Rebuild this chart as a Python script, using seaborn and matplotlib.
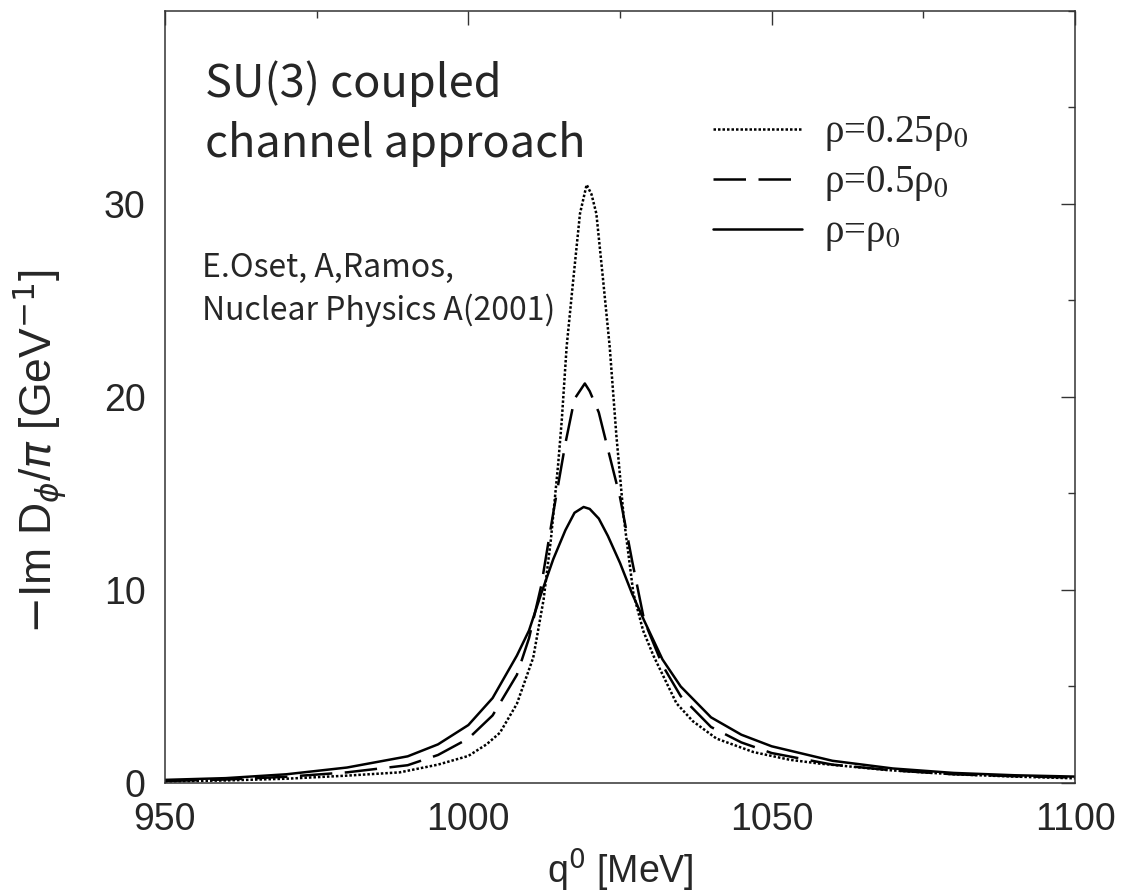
import matplotlib
matplotlib.use("Agg")
import matplotlib.pyplot as plt
from matplotlib.font_manager import FontProperties
from matplotlib.ticker import MultipleLocator
import seaborn as sns
import pandas as pd

# ---- data ----
q_rho025 = [950, 960, 970, 980, 988.7, 995, 1000, 1003, 1005.2, 1008, 1010.7, 1012.4, 1013.6,
            1014.8, 1015.4, 1016.2, 1017.3, 1018.4, 1019.5, 1020.3, 1021.1, 1022.2, 1023.3,
            1024.4, 1025.6, 1027.2, 1028.8, 1030.5, 1034.3, 1037, 1040.9, 1047, 1053, 1058,
            1069, 1080, 1090, 1100]
v_rho025 = [0.08, 0.13, 0.22, 0.38, 0.55, 0.95, 1.4, 2.0, 2.6, 4.1, 6.5, 9.5, 12.6,
            16.5, 18.8, 22.6, 26.1, 29.5, 31.0, 30.5, 29.5, 26.1, 22.6,
            18.0, 13.8, 9.83, 7.9, 6.6, 4.13, 3.2, 2.3, 1.6, 1.2, 1.0,
            0.67, 0.45, 0.33, 0.24]

q_rho05 = [950, 960, 970, 980, 990, 995, 1000, 1004, 1008, 1010, 1012, 1014, 1016, 1017.5,
           1019.2, 1020, 1021.5, 1023, 1025, 1027, 1029, 1032, 1035, 1040, 1045, 1050, 1060,
           1070, 1080, 1090, 1100]
v_rho05 = [0.1, 0.18, 0.32, 0.55, 0.92, 1.45, 2.3, 3.5, 5.6, 7.5, 10.2, 14.0, 17.6, 19.9,
           20.7, 20.3, 19.2, 17.3, 14.8, 11.5, 8.4, 6.1, 4.5, 2.9, 2.1, 1.55, 0.95,
           0.65, 0.45, 0.35, 0.28]

q_rho1 = [950, 960, 970, 980, 990, 995, 1000, 1004, 1008, 1010, 1012, 1014, 1016, 1017.5,
          1019, 1020, 1021.5, 1023, 1025, 1027, 1029, 1032, 1035, 1040, 1045, 1050, 1060,
          1070, 1080, 1090, 1100]
v_rho1 = [0.16, 0.25, 0.45, 0.8, 1.38, 2.0, 3.0, 4.4, 6.6, 7.9, 9.8, 11.6, 13.1, 14.0,
          14.3, 14.2, 13.7, 12.8, 11.4, 9.8, 8.4, 6.4, 5.0, 3.4, 2.5, 1.9, 1.15,
          0.75, 0.52, 0.4, 0.33]

series_labels = ["ρ=0.25ρ$_0$", "ρ=0.5ρ$_0$", "ρ=ρ$_0$"]
x_ticks = [950, 1000, 1050, 1100]
y_ticks = [0, 10, 20, 30]

# ---- style ----
sns.set_theme(style="white")
plt.rcParams["font.family"] = ["Liberation Sans", "DejaVu Sans"]

fig, ax = plt.subplots(figsize=(11.27, 8.94), dpi=100)
fig.subplots_adjust(left=0.1464, right=0.9539, bottom=0.1242, top=0.9877)

styles = [(0, (1, 0.8)), (0, (13, 5)), "-"]
data = [(q_rho025, v_rho025), (q_rho05, v_rho05), (q_rho1, v_rho1)]
for (qq, vv), ls in zip(data, styles):
    df = pd.DataFrame({"q": qq, "v": vv})
    sns.lineplot(data=df, x="q", y="v", ax=ax, color="black", linewidth=1.8,
                 linestyle=ls, estimator=None, sort=True, legend=False)

handles = ax.get_lines()[:3]
leg_font = FontProperties(family="Liberation Serif", size=28, math_fontfamily="stix")
ax.legend(handles, series_labels, loc="upper left", bbox_to_anchor=(0.602, 0.866),
          frameon=False, prop=leg_font, handlelength=2.3, handletextpad=0.55,
          labelspacing=0.28, borderpad=0, borderaxespad=0)

ax.set_xlim(950, 1100)
ax.set_ylim(0, 40)
ax.set_xticks(x_ticks)
ax.set_yticks(y_ticks)
ax.xaxis.set_minor_locator(MultipleLocator(25))
ax.yaxis.set_minor_locator(MultipleLocator(5))
ax.tick_params(which="both", direction="in", top=True, right=True, color="#333333", width=1.0)
ax.tick_params(which="major", length=10, labelsize=27, pad=14)
ax.tick_params(which="minor", length=5)
for s in ax.spines.values():
    s.set_linewidth(1.1)
    s.set_color("#333333")

ax.set_xlabel(r"q$^0$ [MeV]", fontsize=27, labelpad=6)
ax.set_ylabel(r"$-$Im D$_\phi$/$\pi$ [GeV$^{-1}$]", fontsize=32)
ax.yaxis.set_label_coords(-0.105, 0.43)

jp = ["Noto Sans CJK JP", "DejaVu Sans"]
ax.text(0.044, 0.889, "SU(3) coupled", transform=ax.transAxes, fontsize=32.5,
        family=jp, va="baseline", ha="left")
ax.text(0.044, 0.811, "channel approach", transform=ax.transAxes, fontsize=32.5,
        family=jp, va="baseline", ha="left")
ax.text(0.041, 0.655, "E.Oset, A,Ramos,", transform=ax.transAxes, fontsize=23,
        family=jp, va="baseline", ha="left")
ax.text(0.041, 0.600, "Nuclear Physics A(2001)", transform=ax.transAxes, fontsize=23,
        family=jp, va="baseline", ha="left")

fig.savefig("out.png", dpi=100)
